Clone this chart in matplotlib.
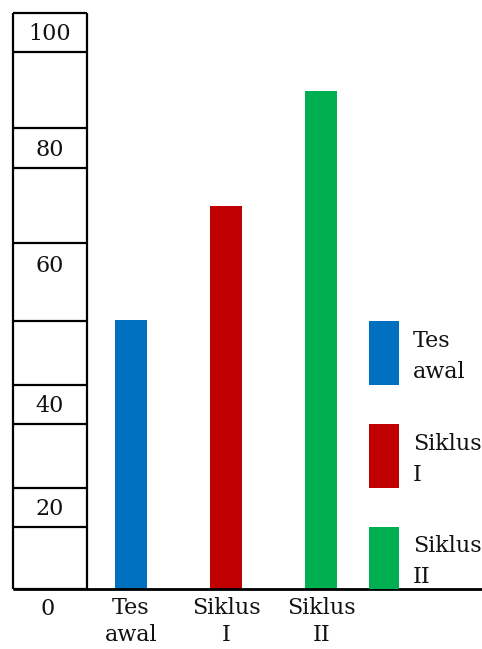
import matplotlib
matplotlib.use("Agg")
import matplotlib.pyplot as plt

# ---- data ----
categories = ["Tes\nawal", "Siklus\nI", "Siklus\nII"]
values = [46.7, 66.5, 86.5]
colors = ["#0070C0", "#C00000", "#00B050"]
legend_labels = ["Tes\nawal", "Siklus\nI", "Siklus\nII"]
legend_spans = [(35.4, 46.5), (17.5, 28.6), (0.0, 10.8)]
box_lines = [100, 93.2, 80, 73.1, 60, 46.5, 35.4, 28.6, 17.5, 10.8, 0]
box_labels = ["100", "80", "60", "40", "20"]
box_label_y = [95.3, 75.2, 55.0, 30.7, 12.9]

W, H = 482, 649
fig = plt.figure(figsize=(W / 100, H / 100), dpi=100)
fig.patch.set_facecolor("white")
FONT = "DejaVu Serif"
FS = 16
TXT = "#111111"

# axes covering x pixels 13..482 and y pixels 13..589
ax = fig.add_axes([13 / W, (H - 589) / H, (482 - 13) / W, (589 - 13) / H])
ax.set_ylim(0, 100)
ax.set_xlim(-1.236, 3.688)
ax.axis("off")

xs = list(range(len(categories)))
ax.bar(xs, values, width=0.34, color=colors, zorder=2)

# left column of boxes
col_l, col_r = -1.236, -0.459
for yv in box_lines:
    ax.plot([col_l, col_r], [yv, yv], color="black", lw=1.6, solid_capstyle="butt", clip_on=False)
for xv in (col_l, col_r):
    ax.plot([xv, xv], [0, 100], color="black", lw=1.6, solid_capstyle="butt", clip_on=False)
cx = (col_l + col_r) / 2
for lab, yv in zip(box_labels, box_label_y):
    ax.text(cx, yv, lab, ha="center", va="baseline", fontsize=FS, family=FONT, color=TXT)

# baseline
ax.plot([col_l, 3.688], [0, 0], color="black", lw=2, solid_capstyle="butt", clip_on=False)


def fy(py):
    return 1 - py / H


def multiline(xp, first_baseline_py, text, ha, step):
    for i, line in enumerate(text.split("\n")):
        fig.text(xp / W, fy(first_baseline_py + i * step), line, ha=ha, va="baseline",
                 fontsize=FS, family=FONT, color=TXT)


# legend patches
legend_first_baselines = [347, 450, 552]
for (lo, hi), c, lab, bl in zip(legend_spans, colors, legend_labels, legend_first_baselines):
    ax.bar(2.6585, hi - lo, bottom=lo, width=0.315, color=c, zorder=2)
    multiline(413, bl, lab, "left", 31)

# x labels below baseline
fig.text(48 / W, fy(615), "0", ha="center", va="baseline", fontsize=FS, family=FONT, color=TXT)
for x, lab in zip(xs, categories):
    xp = 226 + (x - 1) * 95.25
    multiline(xp, 614, lab, "center", 27)

fig.savefig("out.png", dpi=100, facecolor="white")
